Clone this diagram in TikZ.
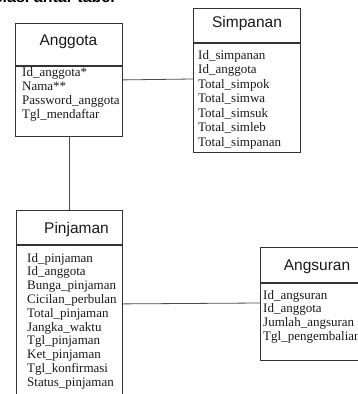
\documentclass[tikz,border=0pt]{standalone}
\usepackage{fontspec}
\setmainfont{Liberation Serif}
\newfontfamily\headfont{Liberation Sans}
\begin{document}
\begin{tikzpicture}[x=1pt,y=-1pt,
  frame/.style={draw=black!80, line width=0.9pt},
  headbox/.style={frame, anchor=north west, inner sep=0pt},
  bodybox/.style={frame, anchor=north west, inner sep=0pt},
  title/.style={anchor=base, inner sep=0pt, text=black!90,
    font=\headfont\fontsize{15.5}{18}\selectfont},
  attr/.style={anchor=base west, inner sep=0pt, text=black!90,
    font=\fontsize{13}{14}\selectfont},
  link/.style={draw=black!70, line width=0.8pt},
  caption/.style={anchor=base east, inner sep=0pt,
    font=\headfont\bfseries\fontsize{16}{18}\selectfont}]
\useasboundingbox (0,0) rectangle (358,394);

% section heading, running off the top edge
\node[caption] (cap) at (115,2.5) {Relasi antar tabel};

% ---- Anggota ----
\node[headbox, minimum width=107pt, minimum height=42pt] (anggota-h) at (15,23) {};
\node[bodybox, minimum width=107pt, minimum height=70pt] (anggota) at (anggota-h.south west) {};
\node[title] (anggota-t) at (68.5,45) {Anggota};
\foreach \t [count=\i from 0] in {Id\_anggota*, Nama**, Password\_anggota, Tgl\_mendaftar}
  \node[attr] (anggota-\i) at (22,76+14*\i) {\t};

% ---- Simpanan ----
\node[headbox, minimum width=107pt, minimum height=34pt] (simpanan-h) at (193,8) {};
\node[bodybox, minimum width=107pt, minimum height=109pt] (simpanan) at (simpanan-h.south west) {};
\node[title] (simpanan-t) at (247,27) {Simpanan};
\foreach \t [count=\i from 0] in {Id\_simpanan, Id\_anggota, Total\_simpok, Total\_simwa,
    Total\_simsuk, Total\_simleb, Total\_simpanan}
  \node[attr] (simpanan-\i) at (198,59+14.5*\i) {\t};

% ---- Pinjaman ----
\node[headbox, minimum width=106pt, minimum height=34pt] (pinjaman-h) at (16,210) {};
\node[bodybox, minimum width=106pt, minimum height=160pt] (pinjaman) at (pinjaman-h.south west) {};
\node[title] (pinjaman-t) at (76.5,233) {Pinjaman};
\foreach \t [count=\i from 0] in {Id\_pinjaman, Id\_anggota, Bunga\_pinjaman, Cicilan\_perbulan,
    Total\_pinjaman, Jangka\_waktu, Tgl\_pinjaman, Ket\_pinjaman, Tgl\_konfirmasi, Status\_pinjaman}
  \node[attr] (pinjaman-\i) at (27,262+13.8*\i) {\t};

% ---- Angsuran ----
\node[headbox, minimum width=115pt, minimum height=35pt] (angsuran-h) at (260,247) {};
\node[bodybox, minimum width=115pt, minimum height=77pt] (angsuran) at (angsuran-h.south west) {};
\node[title] (angsuran-t) at (317,270) {Angsuran};
\foreach \t [count=\i from 0] in {Id\_angsuran, Id\_anggota, Jumlah\_angsuran, Tgl\_pengembalian}
  \node[attr] (angsuran-\i) at (263,299+13.8*\i) {\t};

% ---- relations ----
\draw[link] (anggota.south) -- (anggota.south |- pinjaman-h.north);
\draw[link] (anggota-h.south east) ++(0,14) -- (simpanan.west |- 0,79);
\draw[link] (pinjaman.east |- angsuran-h.south) ++(0,21) -- (angsuran.west |- 0,303);
\end{tikzpicture}
\end{document}
